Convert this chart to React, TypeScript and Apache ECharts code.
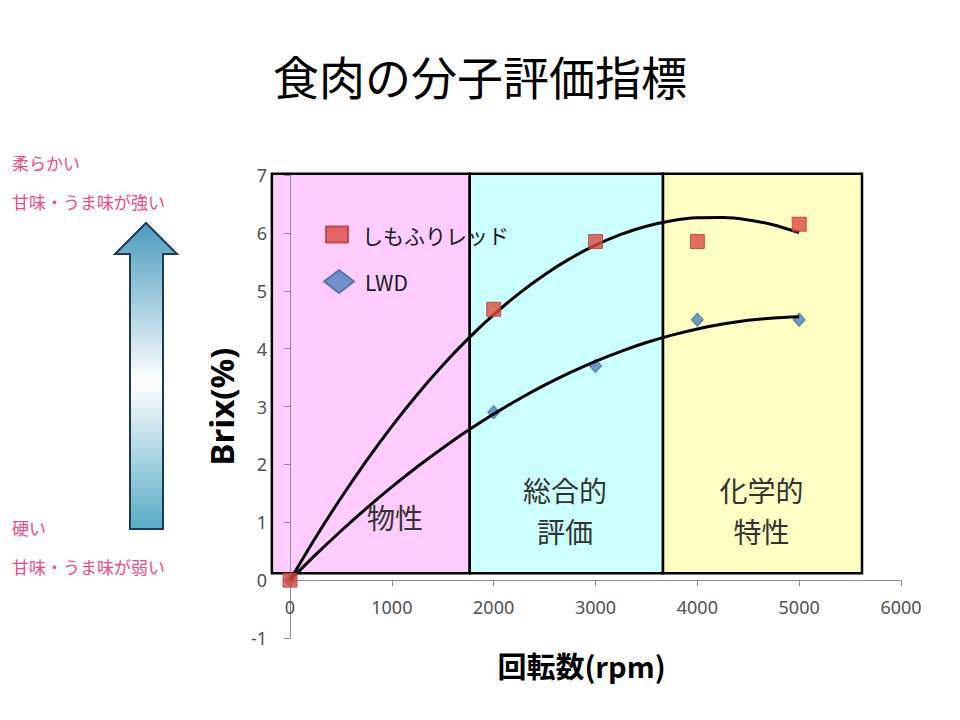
import React, { useEffect, useRef } from 'react';
import * as echarts from 'echarts';

// ---- data ----
const chartTitle = '食肉の分子評価指標';
const seriesNames = ['しもふりレッド', 'LWD'];
const rpm = [0, 2000, 3000, 4000, 5000];
const shimofuriRed = [0, 4.68, 5.85, 5.85, 6.15];
const lwd = [0, 2.9, 3.7, 4.5, 4.5];
// trend curves
const trendRpm = [0, 250, 500, 750, 1000, 1250, 1500, 1750, 2000, 2250, 2500, 2750, 3000, 3250, 3500, 3750, 4000, 4250, 4500, 4750, 5000];
const redTrend = [0, 0.733, 1.419, 2.061, 2.657, 3.208, 3.713, 4.172, 4.586, 4.955, 5.278, 5.555, 5.787, 5.974, 6.115, 6.21, 6.26, 6.265, 6.224, 6.137, 6.005];
const lwdTrend = [0, 0.435, 0.849, 1.24, 1.61, 1.958, 2.284, 2.588, 2.87, 3.13, 3.369, 3.585, 3.78, 3.953, 4.105, 4.233, 4.34, 4.425, 4.489, 4.53, 4.55];
// shaded regions
const regionLabels = [['物性'], ['総合的', '評価'], ['化学的', '特性']];
const regionStart = [-178, 1765, 3663];
const regionEnd = [1765, 3663, 5617];
const regionTop = 7.02;
const regionBottom = 0.12;
const regionLabelX = [1030, 2700, 4630];
const regionLabelY = [1.09, 1.21, 1.21];
const regionColors = ['#ffccff', '#ccffff', '#ffffc4'];
// side notes
const sideTop = ['柔らかい', '甘味・うま味が強い'];
const sideBottom = ['硬い', '甘味・うま味が弱い'];

const CJK = '"Noto Sans CJK JP", "Noto Sans", sans-serif';
const LATIN = '"Noto Sans", sans-serif';

export default function App() {
  const ref = useRef<HTMLDivElement>(null);
  useEffect(() => {
    document.body.style.margin = '0';
    const chart = echarts.init(ref.current!, undefined, { renderer: 'svg' });
    const axisGray = '#8c8c8c';
    const labelGray = '#505050';
    const gridTop = 175;
    const gridBottom = 82;
    const yMin = -1;
    const yMax = 7;
    // place the x axis line at y = 0
    const unit = (720 - gridTop - gridBottom) / (yMax - yMin);
    chart.setOption({
      animation: false,
      backgroundColor: '#ffffff',
      title: {
        text: chartTitle,
        left: 'center',
        top: 47,
        textStyle: { fontSize: 46, fontWeight: 'normal', color: '#000', fontFamily: CJK },
      },
      legend: [
        {
          data: [{ name: seriesNames[0], icon: 'rect' }],
          left: 320,
          top: 219,
          itemWidth: 22,
          itemHeight: 16,
          textStyle: { fontSize: 21, color: '#1a1a1a', fontFamily: CJK, padding: [0, 0, 0, 9] },
        },
        {
          data: [{ name: seriesNames[1], icon: 'diamond' }],
          left: 318,
          top: 264,
          itemWidth: 30,
          itemHeight: 23,
          textStyle: { fontSize: 21, color: '#1a1a1a', fontFamily: CJK, padding: [0, 0, 0, 6] },
        },
      ],
      grid: { left: 290, right: 59, top: gridTop, bottom: gridBottom, containLabel: false, outerBoundsMode: 'none' },
      xAxis: {
        type: 'value',
        min: 0,
        max: 6000,
        interval: 1000,
        position: 'bottom',
        offset: -(0 - yMin) * unit,
        name: '回転数(rpm)',
        nameLocation: 'middle',
        nameGap: 70,
        nameMoveOverlap: false,
        nameTextStyle: {
          fontSize: 29, fontWeight: 'bold', color: '#000', fontFamily: CJK, padding: [0, 28, 0, 0],
        },
        axisLine: { show: true, onZero: false, lineStyle: { color: axisGray, width: 1 } },
        axisTick: { show: true, length: 6, lineStyle: { color: axisGray } },
        axisLabel: {
          fontSize: 18, color: labelGray, margin: 18, fontFamily: LATIN,
          formatter: (v: number) => String(v),
        },
        splitLine: { show: false },
      },
      yAxis: {
        type: 'value',
        min: yMin,
        max: yMax,
        interval: 1,
        name: 'Brix(%)',
        nameLocation: 'middle',
        nameGap: 52,
        nameMoveOverlap: false,
        nameTextStyle: { fontSize: 33, fontWeight: 'bold', color: '#000', fontFamily: LATIN },
        axisLine: { show: true, onZero: false, lineStyle: { color: axisGray, width: 1 } },
        axisTick: { show: true, length: 6, lineStyle: { color: axisGray } },
        axisLabel: {
          fontSize: 18, color: labelGray, margin: 23, fontFamily: LATIN,
          formatter: (v: number) => String(v),
        },
        splitLine: { show: false },
      },
      series: [
        {
          name: 'trend-red',
          type: 'line',
          data: trendRpm.map((x, i) => [x, redTrend[i]]),
          smooth: 0.25,
          showSymbol: false,
          symbol: 'none',
          lineStyle: { color: '#000', width: 3 },
          z: 3,
          silent: true,
        },
        {
          name: 'trend-lwd',
          type: 'line',
          data: trendRpm.map((x, i) => [x, lwdTrend[i]]),
          smooth: 0.25,
          showSymbol: false,
          symbol: 'none',
          lineStyle: { color: '#000', width: 3 },
          z: 3,
          silent: true,
        },
        {
          name: seriesNames[0],
          type: 'scatter',
          data: rpm.map((x, i) => [x, shimofuriRed[i]]),
          symbol: 'rect',
          symbolSize: [14, 14],
          itemStyle: { color: '#dc4b3e', borderColor: '#b53b31', borderWidth: 1 },
          z: 4,
        },
        {
          name: seriesNames[1],
          type: 'scatter',
          data: rpm.map((x, i) => [x, lwd[i]]),
          symbol: 'diamond',
          symbolSize: [12, 13],
          itemStyle: { color: '#4f81bd', borderColor: '#3a6a9e', borderWidth: 1 },
          z: 2,
        },
      ],
    });

    const toPx = (x: number, y: number) => chart.convertToPixel({ gridIndex: 0 }, [x, y]) as number[];
    const elements: any[] = [];
    regionStart.forEach((x0, i) => {
      const p1 = toPx(x0, regionTop);
      const p2 = toPx(regionEnd[i], regionBottom);
      elements.push({
        type: 'rect',
        z: -10,
        shape: { x: p1[0], y: p1[1], width: p2[0] - p1[0], height: p2[1] - p1[1] },
        style: { fill: regionColors[i], stroke: '#000', lineWidth: 2.5 },
        silent: true,
      });
      const lp = toPx(regionLabelX[i], regionLabelY[i]);
      const lines = regionLabels[i];
      const lh = 41;
      lines.forEach((line, k) => {
        elements.push({
          type: 'text',
          z: 1,
          x: lp[0],
          y: lp[1] + (k - (lines.length - 1) / 2) * lh,
          style: {
            text: line,
            fill: '#333333',
            fontSize: 28,
            fontFamily: CJK,
            align: 'center',
            verticalAlign: 'middle',
          },
        });
      });
    });
    // arrow
    elements.push({
      type: 'polygon',
      z: 1,
      shape: {
        points: [
          [146, 223], [177, 254], [163, 254], [163, 529], [130, 529], [130, 254], [115, 254],
        ],
      },
      style: {
        fill: new echarts.graphic.LinearGradient(0, 0, 0, 1, [
          { offset: 0, color: '#4b9bbd' },
          { offset: 0.52, color: '#ffffff' },
          { offset: 1, color: '#58abc6' },
        ]),
        stroke: '#1f3a5a',
        lineWidth: 2,
      },
    });
    const sideTexts = [
      [sideTop[0], 162],
      [sideTop[1], 201],
      [sideBottom[0], 527],
      [sideBottom[1], 566],
    ];
    sideTexts.forEach(([t, y]) => {
      elements.push({
        type: 'text',
        x: 12,
        y: y as number,
        style: {
          text: t as string,
          fill: '#ee4a88',
          fontSize: 17,
          fontFamily: CJK,
          align: 'left',
          verticalAlign: 'middle',
        },
      });
    });
    chart.setOption({ graphic: { elements } });
    return () => chart.dispose();
  }, []);
  return (
    <div
      ref={ref}
      style={{ position: 'absolute', left: 0, top: 0, width: 960, height: 720 }}
    />
  );
}
